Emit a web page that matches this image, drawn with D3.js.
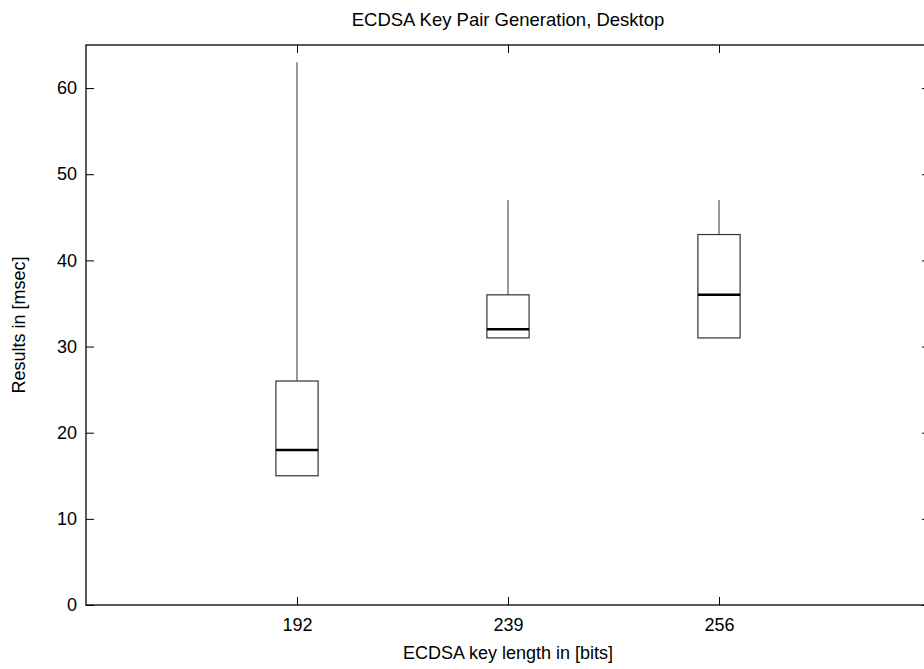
<!DOCTYPE html>
<html>
<head>
<meta charset="utf-8">
<script src="https://cdn.jsdelivr.net/npm/d3@7"></script>
<style>
body { margin: 0; background: #fff; }
text { font-family: "Liberation Sans", Arial, sans-serif; }
</style>
</head>
<body>
<svg width="924" height="669"></svg>
<script>
var categories = ["192", "239", "256"];
var whiskerLow = [15, 31, 31];
var boxLow = [15, 31, 31];
var medians = [18, 32, 36];
var boxHigh = [26, 36, 43];
var whiskerHigh = [63, 47, 47];
var yTicks = [0, 10, 20, 30, 40, 50, 60];

var margin = {left: 86, top: 45, right: -6, bottom: 64};
var svg = d3.select("svg");
var width = svg.attr("width") - margin.left - margin.right,
	height = svg.attr("height") - margin.top - margin.bottom;

var data = categories.map((c, i) => ({
	cat: c, pos: i + 1, wl: whiskerLow[i], bl: boxLow[i],
	med: medians[i], bh: boxHigh[i], wh: whiskerHigh[i]
}));

var x = d3.scaleLinear().domain([0, 4]).range([0, width]);
var y = d3.scaleLinear().domain([0, 65]).range([height, 0]);
var boxW = x(0.2) - x(0);

var grp = svg.append("g")
	.attr("transform", "translate(" + margin.left + "," + margin.top + ")");

// axes with inward ticks
var tick = 8;
grp.append("g")
	.attr("transform", "translate(0," + height + ")")
	.call(d3.axisBottom(x).tickValues(data.map(d => d.pos))
		.tickFormat((d, i) => categories[i]).tickSizeInner(-tick).tickSizeOuter(0).tickPadding(13))
	.call(g => g.select(".domain").remove());
grp.append("g")
	.call(d3.axisTop(x).tickValues(data.map(d => d.pos))
		.tickFormat("").tickSizeInner(-tick).tickSizeOuter(0))
	.call(g => g.select(".domain").remove());
grp.append("g")
	.call(d3.axisLeft(y).tickValues(yTicks).tickSizeInner(-tick).tickSizeOuter(0).tickPadding(9))
	.call(g => g.select(".domain").remove());
grp.append("g")
	.attr("transform", "translate(" + width + ",0)")
	.call(d3.axisRight(y).tickValues(yTicks).tickFormat("").tickSizeInner(-tick).tickSizeOuter(0))
	.call(g => g.select(".domain").remove());

grp.selectAll(".tick text").style("font-size", "18px").attr("fill", "#000");
grp.selectAll(".tick line").attr("stroke", "#000");

grp.append("rect")
	.attr("x", 0).attr("y", 0)
	.attr("width", width).attr("height", height)
	.attr("fill", "none").attr("stroke", "#000").attr("stroke-width", 1.3);

// box plots
var boxes = grp.selectAll(".box").data(data).enter().append("g");
boxes.append("line")
	.attr("x1", d => x(d.pos)).attr("x2", d => x(d.pos))
	.attr("y1", d => y(d.wh)).attr("y2", d => y(d.bh))
	.attr("stroke", "#333").attr("stroke-width", 1);
boxes.append("line")
	.attr("x1", d => x(d.pos)).attr("x2", d => x(d.pos))
	.attr("y1", d => y(d.bl)).attr("y2", d => y(d.wl))
	.attr("stroke", "#333").attr("stroke-width", 1);
boxes.append("rect")
	.attr("x", d => x(d.pos) - boxW / 2)
	.attr("y", d => y(d.bh))
	.attr("width", boxW)
	.attr("height", d => y(d.bl) - y(d.bh))
	.attr("fill", "none").attr("stroke", "#333").attr("stroke-width", 1.2);
boxes.append("line")
	.attr("x1", d => x(d.pos) - boxW / 2).attr("x2", d => x(d.pos) + boxW / 2)
	.attr("y1", d => y(d.med)).attr("y2", d => y(d.med))
	.attr("stroke", "#000").attr("stroke-width", 2.5);

// titles
svg.append("text")
	.attr("x", margin.left + width / 2).attr("y", 26)
	.attr("text-anchor", "middle").style("font-size", "18.5px")
	.text("ECDSA Key Pair Generation, Desktop");
svg.append("text")
	.attr("x", margin.left + width / 2).attr("y", 659)
	.attr("text-anchor", "middle").style("font-size", "18px")
	.text("ECDSA key length in [bits]");
svg.append("text")
	.attr("transform", "translate(25," + (margin.top + height / 2) + ")rotate(-90)")
	.attr("text-anchor", "middle").style("font-size", "18px")
	.text("Results in [msec]");
</script>
</body>
</html>
